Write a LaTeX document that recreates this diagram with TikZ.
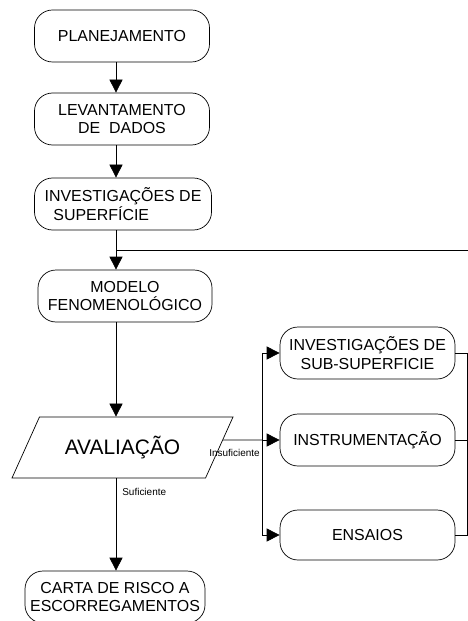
\documentclass[tikz,border=0pt]{standalone}
\usepackage{fontspec}
\setmainfont{Liberation Sans}
\usetikzlibrary{positioning, calc, shapes.geometric, arrows.meta}

\begin{document}
\begin{tikzpicture}[x=1bp, y=-1bp, line width=0.7bp,
        etapa/.style={shape=rectangle, rounded corners=18bp, draw=black, minimum width=175bp, minimum height=52bp, align=center, inner sep=2bp, font=\fontsize{16}{18.5}\selectfont},
        seta/.style={-{Triangle[length=13bp, width=13bp]}},
        rotulo/.style={inner sep=0pt, font=\fontsize{10}{12}\selectfont}]
        \useasboundingbox (0,0) rectangle (468,621);
        \coordinate (col) at (116,0);
        \coordinate (desvio) at (262,440);
        \coordinate (volta) at (467,0);
        \coordinate (retorno) at (468,250);

        \node[etapa] (plan) at (122,36) {PLANEJAMENTO};
        \node[etapa] (lev) at (122,119) {LEVANTAMENTO\\DE\ \ DADOS};
        \node[etapa, align=left, minimum width=177bp] (sup) at (123,204) {INVESTIGAÇÕES DE\\\ \ SUPERFÍCIE};
        \node[etapa, minimum width=174bp] (mod) at (125,296) {MODELO\\FENOMENOLÓGICO};
        \node[shape=trapezium, draw=black, trapezium left angle=47, trapezium right angle=133, trapezium stretches body, minimum width=221bp, minimum height=61bp, font=\fontsize{21}{24}\selectfont] (aval) at (122.5,447.5) {AVALIAÇÃO};
        \node[etapa, minimum width=180bp] (carta) at (115,597) {CARTA DE RISCO A\\ESCORREGAMENTOS};

        \node[etapa] (sub) at (367.5,353) {INVESTIGAÇÕES DE\\SUB-SUPERFICIE};
        \node[etapa] (inst) at (367.5,440) {INSTRUMENTAÇÃO};
        \node[etapa, minimum height=50bp] (ens) at (367.5,535) {ENSAIOS};

        \draw[seta] (plan.south -| col) -- (lev.north -| col);
        \draw[seta] (lev.south -| col) -- (sup.north -| col);
        \draw[seta] (sup.south -| col) -- (mod.north -| col);
        \draw (retorno -| col) -- (retorno);
        \draw[seta] (mod.south -| col) -- (aval.north -| col);
        \draw[seta] (aval.south -| col) -- node[rotulo, right=6bp, pos=0.15] (suf) {Suficiente} (carta.north -| col);

        \draw ($(aval.top right corner)!0.377!(aval.bottom right corner)$) -- (desvio);
        \node[rotulo, anchor=north east] (insuf) at ([xshift=-2bp, yshift=-9bp]desvio) {Insuficiente};
        \draw (desvio |- sub.west) -- (desvio |- ens.west);
        \draw[seta] (desvio |- sub.west) -- (sub.west);
        \draw[seta] (desvio) -- (inst.west);
        \draw[seta] (desvio |- ens.west) -- (ens.west);

        \draw (sub.east) -- (sub.east -| volta) -- (ens.east -| volta) -- (ens.east);
        \draw (inst.east) -- (inst.east -| volta);
\end{tikzpicture}
\end{document}
